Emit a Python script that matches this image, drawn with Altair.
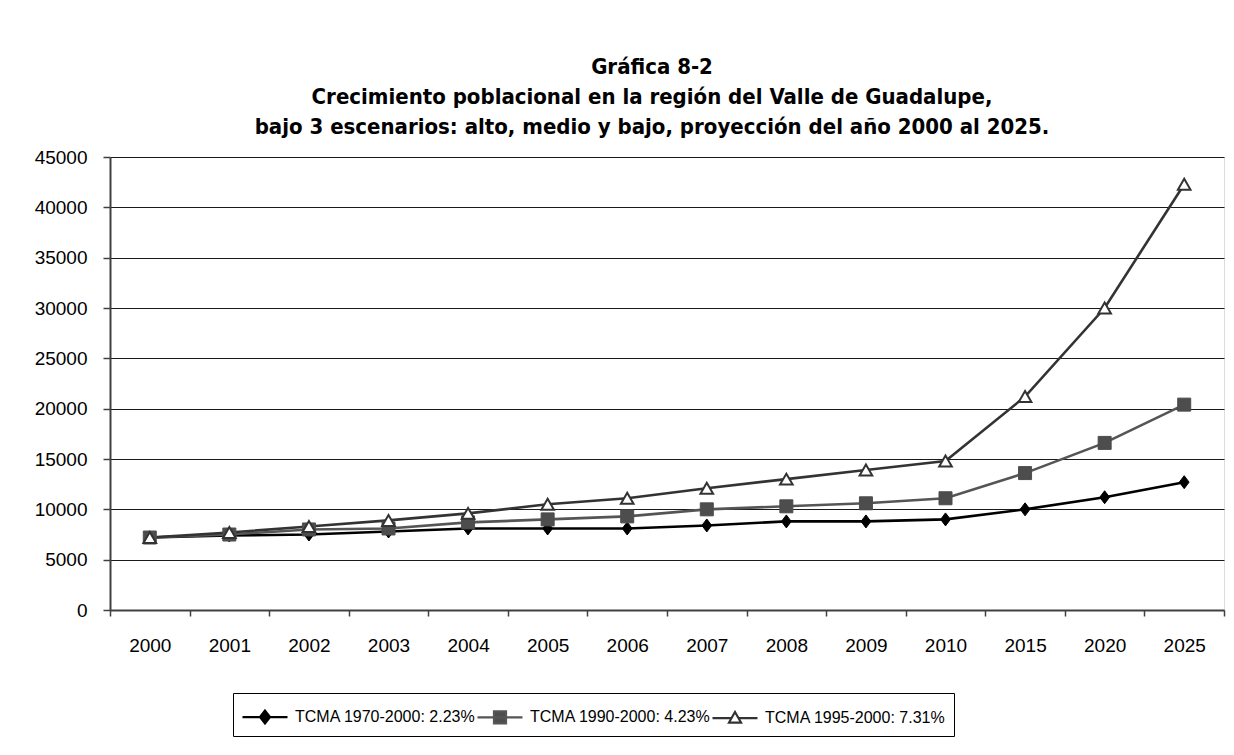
import altair as alt
import pandas as pd

years = ["2000", "2001", "2002", "2003", "2004", "2005", "2006", "2007",
         "2008", "2009", "2010", "2015", "2020", "2025"]
series_names = ["TCMA 1970-2000: 2.23%", "TCMA 1990-2000: 4.23%", "TCMA 1995-2000: 7.31%"]
bajo = [7200, 7400, 7500, 7800, 8100, 8100, 8100, 8400, 8800, 8800, 9000, 10000, 11200, 12700]
medio = [7200, 7500, 8000, 8100, 8700, 9000, 9300, 10000, 10300, 10600, 11100, 13600, 16600, 20400]
alto = [7200, 7700, 8300, 8900, 9600, 10500, 11100, 12100, 13000, 13900, 14800, 21200, 30000, 42300]

line_colors = ["#000000", "#555555", "#333333"]
fill_colors = ["#000000", "#4d4d4d", "#ffffff"]

rows = []
for name, vals in zip(series_names, [bajo, medio, alto]):
    for y, v in zip(years, vals):
        rows.append({"anio": y, "poblacion": v, "serie": name})
df = pd.DataFrame(rows)

title_lines = [
    "Gráfica 8-2",
    "Crecimiento poblacional en la región del Valle de Guadalupe,",
    "bajo 3 escenarios: alto, medio y bajo, proyección del año 2000 al 2025.",
]

x_enc = alt.X("anio:N", sort=years, title=None,
              scale=alt.Scale(domain=years, paddingInner=0, paddingOuter=0),
              axis=alt.Axis(labelAngle=0, tickBand="extent", tickSize=6,
                            labelPadding=20, labelFontSize=19,
                            labelFont="Liberation Sans", labelColor="#000",
                            domainColor="#404040", domainWidth=2,
                            tickColor="#404040", tickWidth=1.5))
y_enc = alt.Y("poblacion:Q", title=None,
              scale=alt.Scale(domain=[0, 45000], nice=False),
              axis=alt.Axis(values=list(range(0, 45001, 5000)), format="d", tickSize=7,
                            labelPadding=16, labelFontSize=19,
                            labelFont="Liberation Sans", labelColor="#000",
                            domainColor="#404040", domainWidth=2,
                            tickColor="#404040", tickWidth=1.5,
                            grid=True, gridColor="#1a1a1a", gridWidth=1))

base = alt.Chart(df)

# legend symbols: unit = 14.5 px (size 841); line spans 45 px, marker at its middle
leg_shapes = [
    "M-1,0H2.103M0.552,-0.448L0.897,0L0.552,0.448L0.207,0Z",
    "M-1,0H2.103M0.138,-0.414H0.966V0.414H0.138Z",
    "M-1,0H0.315M0.789,0H2.103M0.552,-0.414L0.966,0.31H0.138Z",
]


def make_legend():
    return alt.Legend(title=None, orient="none", legendX=123, legendY=536,
                      direction="horizontal", symbolSize=841,
                      symbolStrokeWidth=2.2, labelFontSize=16, labelLimit=400,
                      labelFont="Liberation Sans", labelColor="#000",
                      labelOffset=22, columnPadding=-8, padding=8,
                      strokeColor="#000", fillColor="#ffffff",
                      symbolOpacity=1)


legend_layer = base.mark_point(
    size=841, filled=True, strokeWidth=2, opacity=0).encode(
    x=x_enc, y=y_enc,
    shape=alt.Shape("serie:N", scale=alt.Scale(domain=series_names, range=leg_shapes),
                    legend=make_legend()),
    fill=alt.Fill("serie:N", scale=alt.Scale(domain=series_names, range=fill_colors),
                  legend=make_legend()),
    stroke=alt.Stroke("serie:N", scale=alt.Scale(domain=series_names, range=line_colors),
                      legend=make_legend()),
)

lines = base.mark_line(strokeWidth=2.6).encode(
    x=x_enc, y=y_enc,
    color=alt.Color("serie:N", scale=alt.Scale(domain=series_names, range=line_colors), legend=None),
    detail="serie:N",
)

diamond_path = "M0,-1L0.75,0L0,1L-0.75,0Z"
p1 = base.transform_filter(alt.datum.serie == series_names[0]).mark_point(
    shape=diamond_path, size=169, filled=True, fill="#000000", stroke="#000000",
    strokeWidth=1, opacity=1).encode(x=x_enc, y=y_enc)
p2 = base.transform_filter(alt.datum.serie == series_names[1]).mark_point(
    shape="square", size=169, filled=True, fill="#4d4d4d", stroke="#4d4d4d",
    strokeWidth=1, opacity=1).encode(x=x_enc, y=y_enc)
p3 = base.transform_filter(alt.datum.serie == series_names[2]).mark_point(
    shape="triangle-up", size=160, filled=True, fill="#ffffff", stroke="#333333",
    strokeWidth=2, opacity=1).encode(x=x_enc, y=y_enc)

chart = alt.layer(legend_layer, lines, p1, p2, p3).properties(
    width=1114, height=453,
    autosize=alt.AutoSizeParams(type="none"),
    padding={"left": 102, "top": 149, "right": 2, "bottom": 130},
    title=alt.TitleParams(text=title_lines, anchor="middle", frame="group", dx=-15,
                          fontSize=22, font="DejaVu Sans Condensed, DejaVu Sans",
                          fontWeight="bold", color="#000", lineHeight=30, offset=9),
).configure_view(stroke="#8c8c8c", strokeWidth=2).configure(background="#ffffff")

chart.save("out.html", embed_options={"renderer": "svg", "actions": False})
